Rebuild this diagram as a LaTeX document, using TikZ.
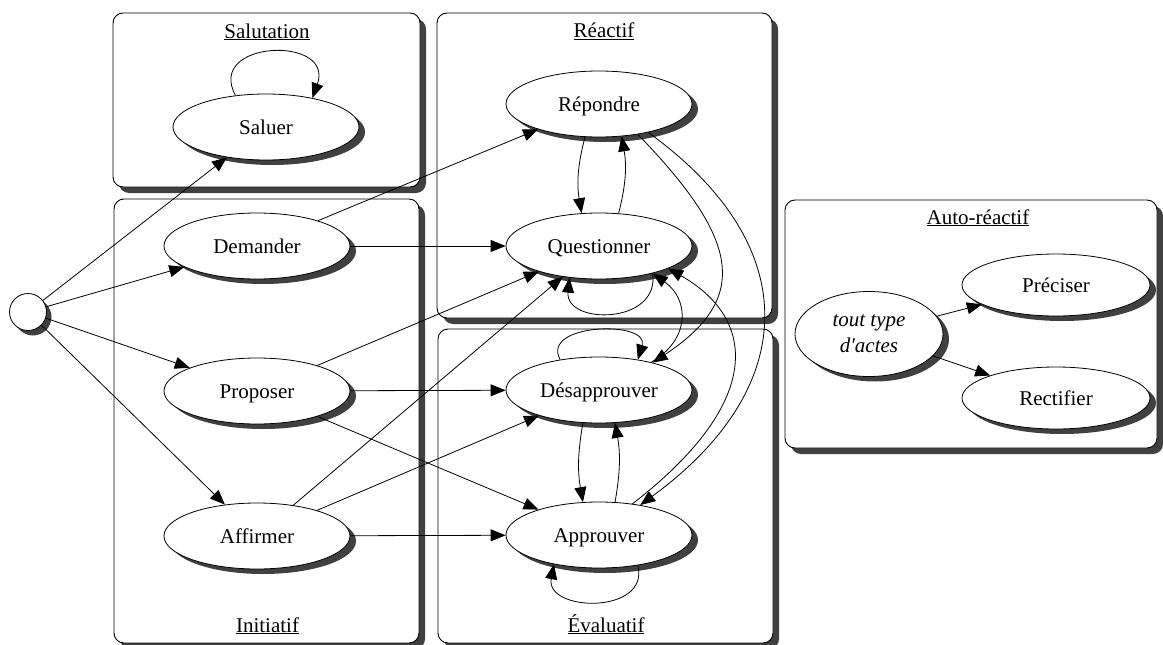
\documentclass[tikz,border=0pt]{standalone}
\usepackage{fontspec}
\setmainfont{Liberation Serif}[Ligatures=TeXOff]
\usetikzlibrary{shapes.geometric,arrows.meta,shadows}
\definecolor{shadowc}{RGB}{64,64,64}
\begin{document}
\begin{tikzpicture}[x=1pt,y=-1pt,
  every node/.style={font=\fontsize{21}{26}\selectfont},
  cluster/.style={draw=black, line width=0.9pt, fill=white, rounded corners=10pt,
    drop shadow={shadow xshift=6pt,shadow yshift=-6pt,fill=shadowc,opacity=1}},
  state/.style={ellipse, draw, line width=0.8pt, fill=white, minimum width=186pt,
    minimum height=66pt, inner sep=0pt,
    drop shadow={shadow xshift=6pt,shadow yshift=-5pt,fill=shadowc,opacity=1}},
  oneline/.style={text height=15pt, text depth=0pt},
  title/.style={inner sep=0pt, anchor=base},
  arr/.style={line width=0.8pt, -{Triangle[length=15pt,width=12pt]}},
]
\useasboundingbox (0,0) rectangle (1163,645);

% clusters
\draw[cluster] (113,13) rectangle (420,187);
\draw[cluster] (114,199) rectangle (419,643);
\draw[cluster] (437,13) rectangle (772,318);
\draw[cluster] (438,329) rectangle (773,643);
\draw[cluster] (785,200) rectangle (1157,448);

% titles
\node[title] (tsal) at (267,38) {\underline{Salutation}};
\node[title] (trea) at (604,37.5) {\underline{Réactif}};
\node[title] (tini) at (267.5,632) {\underline{Initiatif}};
\node[title] (teva) at (606,632) {\underline{Évaluatif}};
\node[title] (taut) at (978,224) {\underline{Auto-réactif}};

% nodes
\node[circle, draw, line width=0.8pt, fill=white, minimum size=37pt, inner sep=0pt,
  drop shadow={shadow xshift=5pt,shadow yshift=-5pt,fill=shadowc,opacity=1}] (start) at (28,312) {};
\node[state, oneline] (sal) at (266,127) {Saluer};
\node[state, oneline] (rep) at (599,104) {Répondre};
\node[state, oneline] (que) at (599,246) {Questionner};
\node[state, oneline] (dem) at (257,246) {Demander};
\node[state, oneline] (pro) at (257,391) {Proposer};
\node[state, oneline] (aff) at (257,536) {Affirmer};
\node[state, oneline] (des) at (599,390) {Désapprouver};
\node[state, oneline] (app) at (599,535) {Approuver};
\node[state, minimum width=148pt, minimum height=85pt, align=center,
  font=\fontsize{21}{26}\selectfont\itshape] (tout) at (869,334) {tout type\\d'actes};
\node[state, oneline, minimum width=188pt, minimum height=62pt] (pre) at (1056,285) {Préciser};
\node[state, oneline, minimum width=188pt, minimum height=62pt] (rec) at (1056,398) {Rectifier};

% straight edges
\draw[arr] (start) -- (sal);
\draw[arr] (start) -- (dem);
\draw[arr] (start) -- (pro);
\draw[arr] (start) -- (aff);
\draw[arr] (dem) -- (rep);
\draw[arr] (dem) -- (que);
\draw[arr] (pro) -- (que);
\draw[arr] (pro) -- (des);
\draw[arr] (pro) -- (app);
\draw[arr] (aff) -- (que);
\draw[arr] (aff) -- (des);
\draw[arr] (aff) -- (app);
\draw[arr] (tout) -- (pre);
\draw[arr] (tout) -- (rec);

% self loops
\draw[arr] (sal.134) .. controls (205,40) and (335,35) .. (sal.32);
\draw[arr] (que.-27) .. controls (660,325) and (565,325) .. (que.-133);
\draw[arr] (des.142) .. controls (540,323) and (650,320) .. (des.38);
\draw[arr] (app.-38) .. controls (650,615) and (545,612) .. (app.-147);

% paired curves
\draw[arr] (rep.-113) to[bend right=12] (que.118);
\draw[arr] (que.59) to[bend right=12] (rep.-55);
\draw[arr] (des.-116) to[bend right=10] (app.116);
\draw[arr] (app.64) to[bend right=10] (des.-64);

% long curves
\draw[arr] (rep.-38) .. controls (738,238) and (752,297) .. (des.27);
\draw[arr] (rep.-30) .. controls (807,247) and (799,389) .. (app.36);
\draw[arr] (app.43) .. controls (768,399) and (754,317) .. (que.-18);
\draw[arr] (des.28) .. controls (690,340) and (690,300) .. (que.-27);
\end{tikzpicture}
\end{document}
